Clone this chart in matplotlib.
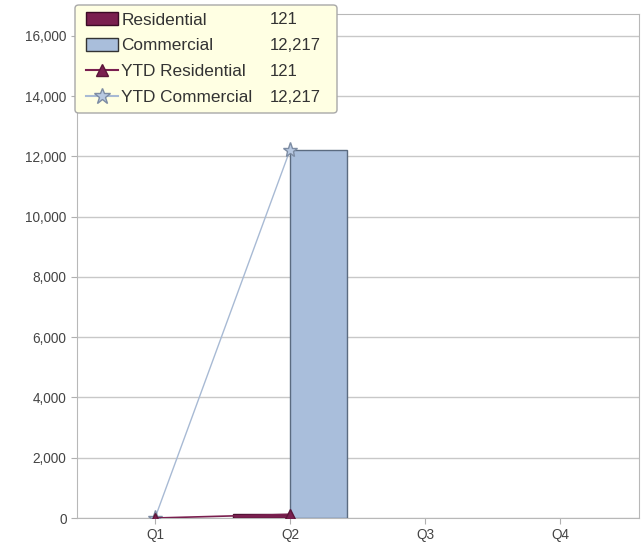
import matplotlib
matplotlib.use("Agg")
import matplotlib.pyplot as plt
import numpy as np
from matplotlib.patches import Patch, FancyBboxPatch
from matplotlib.lines import Line2D

plt.rcParams["font.family"] = ["Liberation Sans", "DejaVu Sans"]

# data
quarters = ["Q1", "Q2", "Q3", "Q4"]
residential = [np.nan, 121, np.nan, np.nan]
commercial = [np.nan, 12217, np.nan, np.nan]
ytd_residential = [0, 121, np.nan, np.nan]
ytd_commercial = [0, 12217, np.nan, np.nan]
legend_names = ["Residential", "Commercial", "YTD Residential", "YTD Commercial"]
legend_values = ["121", "12,217", "121", "12,217"]

W, H = 643, 549
fig = plt.figure(figsize=(W / 100, H / 100), dpi=100)
ax = fig.add_axes([77 / W, (549 - 518) / H, (639 - 77) / W, (518 - 14) / H])

res_col = "#7a1f4f"
com_col = "#a9bedb"
x = np.arange(len(quarters))
bw = 0.425

ax.bar(x - bw / 2, residential, bw, color=res_col, edgecolor="#4a1030", linewidth=1, zorder=3)
ax.bar(x + bw / 2, commercial, bw, color=com_col, edgecolor="#5b6b80", linewidth=1, zorder=3)
ax.plot(x, ytd_commercial, color="#a8bad4", lw=1, marker="*", ms=11,
        mfc="#b8c9e2", mec="#7d8ca3", mew=1, zorder=4)
ax.plot(x, ytd_residential, color=res_col, lw=1.2, marker="^", ms=7,
        mfc=res_col, mec="#5a1538", zorder=4)

ax.set_xlim(-0.578, 3.585)
ax.set_ylim(0, 16730)
ax.set_xticks(x)
ax.set_xticklabels(quarters)
ax.set_yticks(np.arange(0, 16001, 2000))
ax.set_yticklabels([f"{v:,}" for v in range(0, 16001, 2000)])
ax.yaxis.grid(True, color="#c8c8c8", lw=1)
ax.set_axisbelow(True)
for s in ax.spines.values():
    s.set_color("#b8b8b8")
ax.tick_params(colors="#b0b0b0", labelcolor="#444444", labelsize=9.8, length=4)

# legend box
box = FancyBboxPatch((75 / W, (549 - 113) / H), (337 - 75) / W, (113 - 5) / H,
                     boxstyle="round,pad=0,rounding_size=0.006", transform=fig.transFigure,
                     facecolor="#ffffe3", edgecolor="#a8a8a8", lw=1, zorder=5)
fig.patches.append(box)

handles = [
    Patch(facecolor=res_col, edgecolor="#3a0a25"),
    Patch(facecolor=com_col, edgecolor="#333333"),
    Line2D([0], [0], color=res_col, marker="^", ms=9, mfc=res_col, mec="#5a1538"),
    Line2D([0], [0], color="#a8bad4", marker="*", ms=12, mfc="#b8c9e2", mec="#7d8ca3"),
]
leg = fig.legend(handles, legend_names, loc="upper left",
                 bbox_to_anchor=(86 / W, (549 - 12) / H), frameon=False,
                 fontsize=12.4, handlelength=1.85, handleheight=0.8,
                 handletextpad=0.2, labelspacing=0.6, borderaxespad=0,
                 borderpad=0)
leg.set_zorder(6)
for t in leg.get_texts():
    t.set_color("#333333")

row_y = [20, 46, 72, 97]
for yy, val in zip(row_y, legend_values):
    fig.text(270 / W, (549 - yy) / H, val, fontsize=12, color="#333333",
             va="center", ha="left", zorder=7)

fig.savefig("out.png", dpi=100)
